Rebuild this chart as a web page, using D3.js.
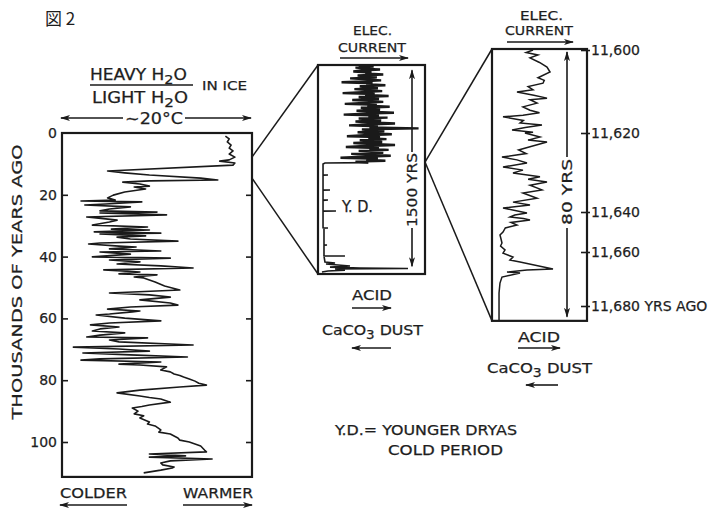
<!DOCTYPE html>
<html>
<head>
<meta charset="utf-8">
<script src="https://cdn.jsdelivr.net/npm/d3@7.9.0/dist/d3.min.js"></script>
<style>
  body { margin: 0; background: #fff; }
  svg { display: block; }
  text { font-family: "DejaVu Sans", sans-serif; fill: #1e1e1e; stroke: #1e1e1e; stroke-width: 0.25px; }
</style>
</head>
<body>
<svg width="709" height="509"></svg>
<script>
// ---- data ----
// left panel: [thousands of years ago, heavy/light water (per mil)]
const iceCore = [
  [1.0,-35.4],[1.9,-35.2],[2.9,-35.3],[3.9,-35.1],[4.9,-35.2],[5.8,-35.0],[6.8,-35.2],[7.8,-34.9],
  [8.7,-35.2],[9.1,-35.7],[9.7,-34.9],[10.4,-35.0],[12.3,-41.6],[12.9,-40.7],[13.6,-39.4],[14.6,-36.7],
  [15.2,-35.8],[15.5,-39.4],[15.9,-40.8],[16.5,-39.9],[17.2,-39.4],[17.5,-40.2],[18.1,-39.6],[19.1,-40.7],
  [20.1,-41.3],[21.0,-41.6],[21.7,-41.2],[22.0,-43.0],[22.3,-39.8],[23.0,-41.7],[23.3,-42.8],[23.9,-40.4],
  [24.6,-41.5],[25.2,-42.0],[25.6,-39.0],[25.9,-42.0],[26.5,-38.5],[27.2,-42.7],[27.8,-41.7],[28.2,-41.1],
  [28.8,-41.5],[29.8,-42.4],[30.4,-39.5],[31.1,-41.4],[31.4,-39.4],[32.0,-42.3],[32.4,-38.8],[32.7,-42.0],
  [33.3,-39.6],[33.7,-41.1],[34.3,-40.4],[35.0,-37.9],[35.6,-42.0],[35.9,-42.6],[36.6,-41.0],[36.9,-40.1],
  [37.5,-41.5],[38.2,-38.8],[38.5,-42.0],[39.2,-40.4],[40.1,-42.4],[40.5,-38.3],[41.1,-41.5],[41.7,-39.9],
  [42.4,-41.1],[43.0,-38.8],[43.7,-37.1],[44.3,-41.8],[45.0,-39.9],[45.6,-41.0],[45.9,-39.0],[46.6,-40.2],
  [46.9,-39.7],[48.2,-39.1],[49.5,-38.6],[50.8,-37.8],[51.8,-41.5],[52.4,-39.4],[53.1,-38.3],[54.0,-39.9],
  [55.0,-38.3],[55.7,-37.9],[56.3,-40.4],[57.0,-41.6],[57.6,-39.9],[57.9,-40.3],[58.6,-41.5],[58.9,-42.2],
  [59.9,-40.7],[60.8,-38.8],[61.5,-41.5],[62.1,-42.5],[62.8,-41.0],[63.4,-42.0],[64.1,-42.4],[64.7,-40.7],
  [65.4,-42.0],[66.0,-42.7],[66.3,-39.5],[67.0,-41.5],[67.6,-41.0],[68.6,-37.1],[69.3,-43.4],[69.9,-41.0],
  [70.6,-39.4],[71.2,-42.9],[71.8,-40.4],[72.5,-37.4],[73.1,-42.0],[73.5,-43.0],[74.1,-38.8],[74.8,-41.0],
  [75.1,-39.9],[75.7,-38.5],[76.7,-38.8],[77.3,-38.3],[78.0,-38.1],[78.5,-37.8],[79.0,-37.6],[79.6,-37.3],
  [80.3,-37.0],[81.0,-36.8],[81.6,-36.4],[82.2,-37.8],[83.2,-39.9],[84.1,-41.1],[85.1,-39.9],[85.6,-39.4],
  [86.1,-38.8],[87.1,-38.3],[88.0,-39.4],[88.5,-39.8],[89.0,-40.3],[90.0,-40.0],[90.9,-40.2],[91.5,-39.7],
  [92.2,-39.9],[93.5,-39.4],[94.2,-39.5],[94.8,-39.1],[96.1,-38.8],[96.8,-38.9],[97.4,-38.3],[98.7,-37.9],
  [99.4,-37.8],[100.0,-37.3],[101.3,-36.7],[102.6,-36.5],[103.2,-36.4],[103.9,-39.4],[104.5,-37.5],[104.9,-39.4],
  [105.5,-36.1],[106.1,-38.3],[106.8,-38.8],[107.4,-38.7],[108.1,-38.1],[108.4,-38.2],[109.1,-38.8],[110.0,-39.7]
];
const ageTicks = [0, 20, 40, 60, 80, 100];

// middle panel: electrical current, dense part sampled every 7.5 yr from 10105 yr ago
const midDenseStart = 10105, midDenseStep = 7.5;
const midDense = [
  38,52,35,47,58,40,33,50,44,61,37,48,55,30,46,59,42,22,51,45,
  63,39,49,56,34,47,60,41,23,53,44,66,38,50,57,32,48,61,43,25,
  55,46,67,40,52,58,36,49,71,44,24,57,47,65,38,53,59,35,50,72,
  45,29,56,48,94,41,54,62,37,51,69,43,27,58,47,64,39,53,60,33,
  50,72,44,26,57,48,66,38,54,61,31,49,68,42,21,56,45,63,35,47
];
// middle panel, Younger Dryas part: [years ago, current]
const midYD = [
  [10850,6.5],[10858,4.7],[10940,4.7],[10942,9.3],[10944,4.7],[11055,4.7],[11057,11.2],[11059,4.7],
  [11132,4.7],[11134,9.3],[11136,4.7],[11216,4.7],[11218,16.8],[11220,4.7],[11346,4.7],[11348,9.3],
  [11350,5.6],[11476,5.6],[11478,8.4],[11480,5.6],[11560,5.6],[11562,25.2],[11564,5.6],[11608,6.5],
  [11616,15.9],[11624,7.5],[11639,29.9],[11647,11.2],[11654,39.3],[11658,84.1],[11662,15.9],[11670,25.2],
  [11677,9.3],[11685,3.7]
];

// right panel: [years ago, current]
const rightTrace = [
  [11600.0,43.2],[11600.6,36.0],[11601.2,48.4],[11601.9,40.0],[11603.0,50.0],[11604.1,57.9],[11605.3,61.1],
  [11606.7,48.4],[11607.3,55.0],[11608.0,53.7],[11608.8,38.0],[11609.6,43.2],[11610.1,26.3],[11610.9,44.0],
  [11611.6,57.9],[11612.0,40.0],[11612.8,47.4],[11613.7,32.6],[11614.5,40.0],[11615.1,50.0],[11615.7,32.6],
  [11616.1,11.6],[11617.0,33.0],[11617.6,29.5],[11618.1,52.6],[11618.7,35.0],[11619.3,21.1],[11619.8,43.2],
  [11620.0,34.7],[11621.0,50.5],[11621.8,37.9],[11622.3,57.9],[11623.5,40.0],[11624.3,28.0],[11625.2,36.0],
  [11626.1,10.5],[11626.8,26.3],[11627.6,36.8],[11628.6,11.6],[11629.4,32.6],[11630.1,22.1],[11631.1,50.5],
  [11631.7,38.0],[11632.4,57.9],[11633.2,40.0],[11634.4,52.6],[11635.2,32.6],[11636.5,47.4],[11637.5,22.1],
  [11638.2,40.0],[11639.0,11.6],[11640.5,36.8],[11641.5,24.0],[11642.5,18.9],[11643.3,33.0],[11644.0,40.0],
  [11645.2,20.0],[11646.5,26.3],[11648.0,14.0],[11650.0,11.6],[11651.5,8.4],[11653.5,9.5],[11655.5,10.5],
  [11657.0,9.0],[11659.0,13.7],[11660.4,11.6],[11661.9,22.1],[11663.0,18.9],[11663.7,29.5],[11666.3,64.2],
  [11666.7,36.8],[11667.4,15.8],[11667.8,29.5],[11669.3,10.5],[11671.5,8.4],[11675.2,7.4],[11681.5,7.4],
  [11685.2,7.4]
];
const rightTicks = [11600, 11620, 11640, 11660, 11680];

const ink = "#1a1a1a";
const svg = d3.select("svg");

// ---- scales ----
const ageY = d3.scaleLinear().domain([0, 100]).range([133, 442]);
const ageEnd = 111.3;
const d18X = d3.scaleLinear().domain([-44, -34]).range([62, 252]);

const midY = d3.scaleLinear().domain([10100, 11700]).range([65, 274]);
const midX = d3.scaleLinear().domain([0, 100]).range([318, 425]);

// the right panel's depth/age scale is uneven in the original
const rightY = d3.scaleLinear().domain(rightTicks).range([50, 133, 212, 252, 306]);
const rightEnd = 11685.5;
const rightX = d3.scaleLinear().domain([0, 100]).range([492, 587]);

// ---- markers ----
svg.append("defs").append("marker")
  .attr("id", "head")
  .attr("viewBox", "0 0 10 6")
  .attr("refX", 9).attr("refY", 3)
  .attr("markerWidth", 10).attr("markerHeight", 6)
  .attr("markerUnits", "userSpaceOnUse")
  .attr("orient", "auto-start-reverse")
  .append("path").attr("d", "M0,0L10,3L0,6L2.5,3z").attr("fill", ink);

function arrow(x1, y1, x2, y2, atStart, atEnd) {
  const l = svg.append("line")
    .attr("x1", x1).attr("y1", y1).attr("x2", x2).attr("y2", y2)
    .attr("stroke", ink).attr("stroke-width", 1.6);
  if (atStart) l.attr("marker-start", "url(#head)");
  if (atEnd) l.attr("marker-end", "url(#head)");
}

// text with optional subscripts: parts = ["CaCO", ["3"], " DUST"]
function label(x, y, parts, size, len, anchor) {
  const t = svg.append("text").attr("x", x).attr("y", y)
    .attr("font-size", size).attr("text-anchor", anchor || "start");
  if (len) t.attr("textLength", len).attr("lengthAdjust", "spacingAndGlyphs");
  let low = false;
  (Array.isArray(parts) ? parts : [parts]).forEach(p => {
    const sub = Array.isArray(p);
    const s = t.append("tspan").text(sub ? p[0] : p);
    if (sub && !low) { s.attr("dy", 4).attr("font-size", size * 0.85); low = true; }
    else if (!sub && low) { s.attr("dy", -4); low = false; }
  });
  return t;
}

function box(x0, y0, x1, y1) {
  svg.append("rect").attr("x", x0).attr("y", y0)
    .attr("width", x1 - x0).attr("height", y1 - y0)
    .attr("fill", "none").attr("stroke", ink).attr("stroke-width", 2.2);
}

// ---- title ----
svg.append("text").attr("x", 45).attr("y", 25)
  .attr("font-size", 17)
  .style("font-family", "'Noto Sans CJK JP', sans-serif")
  .style("stroke-width", "0px")
  .text("図 2");

// ---- left panel ----
const [lx0, lx1] = d18X.range();
box(lx0, ageY(0), lx1, ageY(ageEnd));

const gL = svg.append("g").attr("transform", `translate(${lx0},0)`)
  .call(d3.axisLeft(ageY).tickValues(ageTicks).tickSize(-6).tickPadding(5).tickFormat(d3.format("d")));
gL.select(".domain").remove();
gL.attr("font-family", "DejaVu Sans, sans-serif").attr("font-size", 14).attr("color", ink);
gL.selectAll(".tick line").attr("stroke-width", 1.6);
gL.selectAll(".tick").filter(d => d === 0).select("line").remove();

const gR = svg.append("g").attr("transform", `translate(${lx1},0)`)
  .call(d3.axisRight(ageY).tickValues(ageTicks.slice(1)).tickSize(-6).tickFormat(""));
gR.select(".domain").remove();
gR.attr("color", ink).selectAll(".tick line").attr("stroke-width", 1.6);

svg.append("path").datum(iceCore)
  .attr("fill", "none").attr("stroke", ink).attr("stroke-width", 1.6)
  .attr("stroke-linejoin", "round")
  .attr("d", d3.line().x(d => d18X(d[1])).y(d => ageY(d[0])));

label(0, 0, "THOUSANDS OF YEARS AGO", 14, 275, "middle")
  .attr("transform", "translate(22,282) rotate(-90)");

label(90, 80, ["HEAVY H", ["2"], "O"], 15, 97);
svg.append("line").attr("x1", 90).attr("x2", 193).attr("y1", 85).attr("y2", 85)
  .attr("stroke", ink).attr("stroke-width", 1.6);
label(92, 103, ["LIGHT H", ["2"], "O"], 15, 96);
label(202, 90, "IN ICE", 13, 45);

label(154, 124, "~20°C", 16, 58, "middle");
arrow(123, 118, lx0 - 1, 118, false, true);
arrow(185, 118, lx1 - 1, 118, false, true);

label(60, 498, "COLDER", 14, 67);
arrow(127, 505, 60, 505, false, true);
label(183, 498, "WARMER", 14, 70);
arrow(183, 505, 252, 505, false, true);

// ---- middle panel ----
const [mx0, mx1] = midX.range();
const [my0, my1] = midY.range();
box(mx0, my0, mx1, my1);

const midLine = d3.line().x(d => midX(d[1])).y(d => midY(d[0]));
const midDensePts = midDense.map((v, i) => [midDenseStart + i * midDenseStep, v]);
svg.append("path").datum(midDensePts)
  .attr("fill", "none").attr("stroke", ink).attr("stroke-width", 2.4)
  .attr("d", midLine);
svg.append("path").datum(midDensePts.slice(-1).concat(midYD))
  .attr("fill", "none").attr("stroke", ink).attr("stroke-width", 1.6)
  .attr("d", midLine);

label(342, 212, "Y. D.", 15, 31);

// 1500 yr arrow
const mArrowX = 412;
arrow(mArrowX, 152, mArrowX, midY(10140), false, true);
arrow(mArrowX, 228, mArrowX, midY(11640), false, true);
label(0, 0, "1500 YRS", 14, 74, "middle")
  .attr("dominant-baseline", "central")
  .attr("transform", `translate(${mArrowX},190) rotate(-90)`);

label(353, 35, "ELEC.", 12, 39);
label(338, 52, "CURRENT", 13, 68);
arrow(340, 58, 408, 58, false, true);

label(352, 300, "ACID", 14, 40);
arrow(352, 308, 391, 308, false, true);
label(322, 335, ["CaCO", ["3"], " DUST"], 14, 101);
arrow(391, 348, 352, 348, false, true);

// ---- right panel ----
const [rx0, rx1] = rightX.range();
box(rx0, rightY(11600) - 1, rx1, rightY(rightEnd));

svg.append("path").datum(rightTrace)
  .attr("fill", "none").attr("stroke", ink).attr("stroke-width", 1.5)
  .attr("d", d3.line().x(d => rightX(d[1])).y(d => rightY(d[0])));

const gRt = svg.append("g").attr("transform", `translate(${rx1},0)`)
  .call(d3.axisRight(rightY).tickValues(rightTicks).tickSize(3).tickPadding(1)
    .tickFormat(d => d3.format(",")(d) + (d === 11680 ? " YRS AGO" : "")));
gRt.select(".domain").remove();
gRt.attr("font-family", "DejaVu Sans, sans-serif").attr("font-size", 14).attr("color", ink);
gRt.selectAll(".tick line").attr("x1", -6).attr("stroke-width", 1.6);
gRt.selectAll("text").attr("text-anchor", "start");

const rArrowX = 567;
arrow(rArrowX, 157, rArrowX, rightY(11600.5), false, true);
arrow(rArrowX, 228, rArrowX, rightY(11684), false, true);
label(0, 0, "80 YRS", 14, 66, "middle")
  .attr("dominant-baseline", "central")
  .attr("transform", `translate(${rArrowX},192) rotate(-90)`);

label(520, 20, "ELEC.", 12, 43);
label(505, 35, "CURRENT", 13, 68);
arrow(507, 42, 573, 42, false, true);

label(518, 342, "ACID", 14, 42);
arrow(518, 348, 560, 348, false, true);
label(487, 373, ["CaCO", ["3"], " DUST"], 14, 105);
arrow(558, 385, 526, 385, false, true);

// ---- connectors between panels ----
const links = [
  [lx1, ageY(7.8), mx0, my0],
  [lx1, ageY(14.6), mx0, my1],
  [mx1, midY(10843), rx0, rightY(11600) - 1],
  [mx1, midY(10843), rx0, rightY(rightEnd)]
];
links.forEach(([x1, y1, x2, y2]) => {
  svg.append("line").attr("x1", x1).attr("y1", y1).attr("x2", x2).attr("y2", y2)
    .attr("stroke", ink).attr("stroke-width", 1.5);
});

// ---- note ----
label(335, 435, "Y.D.= YOUNGER DRYAS", 14, 182);
label(388, 455, "COLD PERIOD", 14, 115);
</script>
</body>
</html>
